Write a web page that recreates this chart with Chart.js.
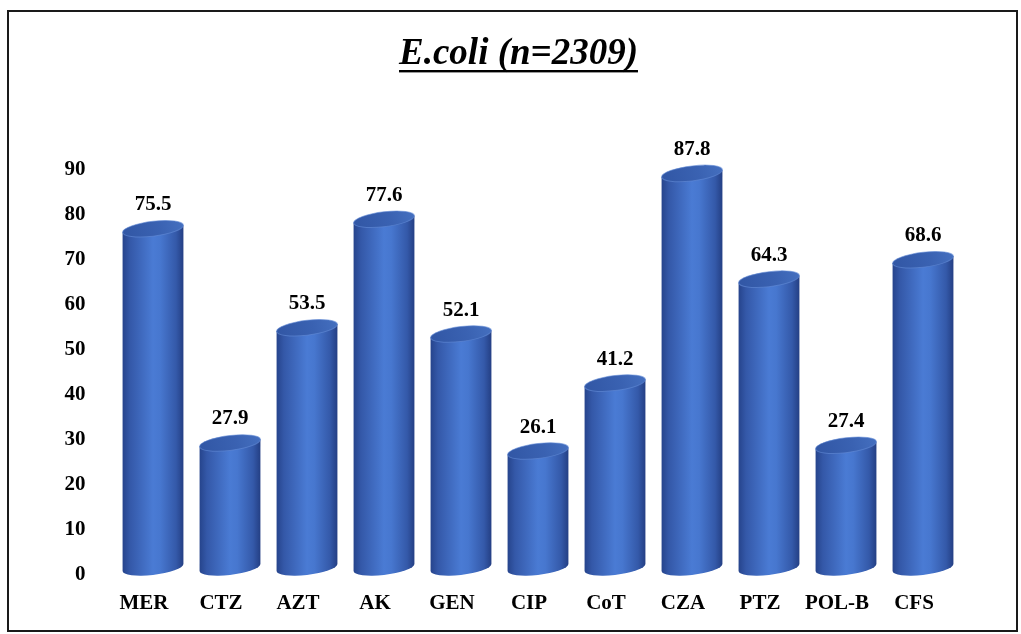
<!DOCTYPE html>
<html>
<head>
<meta charset="utf-8">
<script src="https://cdn.jsdelivr.net/npm/chart.js@4.4.1/dist/chart.umd.min.js"></script>
<style>
  html, body { margin: 0; padding: 0; background: #fff; }
  #wrap { width: 1021px; height: 634px; }
</style>
</head>
<body>
<div id="wrap"><canvas id="chart" width="1021" height="634"></canvas></div>
<script>
// Resistance rates (%) per antibiotic
const antibiotics = ['MER', 'CTZ', 'AZT', 'AK', 'GEN', 'CIP', 'CoT', 'CZA', 'PTZ', 'POL-B', 'CFS'];
const resistance = [75.5, 27.9, 53.5, 77.6, 52.1, 26.1, 41.2, 87.8, 64.3, 27.4, 68.6];
const titleText = 'E.coli (n=2309)';
const yMax = 90;
const yStep = 10;

const SERIF = '"Liberation Serif", "Times New Roman", serif';

// Frame, title and 3D cylinders drawn from the bar elements' geometry
const cylinderPlugin = {
  id: 'cylinders',
  beforeDraw(chart) {
    const ctx = chart.ctx;
    ctx.save();
    ctx.fillStyle = '#fff';
    ctx.fillRect(0, 0, chart.width, chart.height);
    ctx.strokeStyle = '#1a1a1a';
    ctx.lineWidth = 2;
    ctx.strokeRect(8, 11, 1009, 620);
    // title
    ctx.font = 'italic bold 37px ' + SERIF;
    ctx.fillStyle = '#000';
    ctx.textAlign = 'center';
    ctx.textBaseline = 'alphabetic';
    const cx = 518.5, by = 64;
    ctx.fillText(titleText, cx, by);
    const w = ctx.measureText(titleText).width;
    ctx.fillRect(cx - w / 2, by + 6, w, 2.4);
    ctx.restore();
  },
  afterDatasetsDraw(chart) {
    const ctx = chart.ctx;
    const meta = chart.getDatasetMeta(0);
    const ry = 7.5;
    const tilt = 3.5; // right side of each ellipse sits this much higher
    meta.data.forEach((bar, i) => {
      const x = bar.x, top = bar.y, base = bar.base;
      const rx = bar.width / 2;
      const k = tilt / rx;
      const tc = top - ry + 1, bc = base - ry;
      ctx.save();
      ctx.translate(x, 0);
      ctx.transform(1, -k, 0, 1, 0, 0);
      // body
      const g = ctx.createLinearGradient(-rx, 0, rx, 0);
      g.addColorStop(0, '#26448c');
      g.addColorStop(0.12, '#3458a8');
      g.addColorStop(0.5, '#4a7bd4');
      g.addColorStop(0.62, '#4777cf');
      g.addColorStop(0.88, '#3459a9');
      g.addColorStop(1, '#243f84');
      ctx.beginPath();
      ctx.moveTo(-rx, tc);
      ctx.lineTo(-rx, bc);
      ctx.ellipse(0, bc, rx, ry, 0, Math.PI, 0, true);
      ctx.lineTo(rx, tc);
      ctx.closePath();
      ctx.fillStyle = g;
      ctx.fill();
      // top cap
      const gt = ctx.createLinearGradient(-rx, tc + ry, rx, tc - ry);
      gt.addColorStop(0, '#3156a4');
      gt.addColorStop(0.6, '#3a62b2');
      gt.addColorStop(1, '#4570c0');
      ctx.beginPath();
      ctx.ellipse(0, tc, rx, ry, 0, 0, Math.PI * 2);
      ctx.fillStyle = gt;
      ctx.fill();
      ctx.strokeStyle = 'rgba(100,140,215,0.6)';
      ctx.lineWidth = 1;
      ctx.stroke();
      ctx.restore();
      // value label
      ctx.save();
      ctx.font = 'bold 21px ' + SERIF;
      ctx.fillStyle = '#000';
      ctx.textAlign = 'center';
      ctx.textBaseline = 'alphabetic';
      ctx.fillText(resistance[i].toFixed(1), x, top - 25);
      ctx.restore();
    });
  }
};

new Chart(document.getElementById('chart'), {
  type: 'bar',
  data: {
    labels: antibiotics,
    datasets: [{
      data: resistance,
      backgroundColor: 'rgba(0,0,0,0)',
      borderWidth: 0,
      categoryPercentage: 1,
      barPercentage: 0.79
    }]
  },
  options: {
    responsive: false,
    animation: false,
    layout: { padding: { left: 20, right: 59.5, top: 170, bottom: 20 } },
    plugins: {
      legend: { display: false },
      tooltip: { enabled: false },
      title: { display: false }
    },
    scales: {
      x: {
        grid: { display: false, drawTicks: false },
        border: { display: false },
        ticks: {
          color: '#000',
          font: { family: SERIF, size: 21, weight: 'bold' },
          padding: 16,
          labelOffset: -9,
          maxRotation: 0,
          autoSkip: false
        },
        afterFit(s) { s.height = 39; }
      },
      y: {
        min: 0,
        max: yMax,
        grid: { display: false, drawTicks: false },
        border: { display: false },
        ticks: {
          stepSize: yStep,
          color: '#000',
          font: { family: SERIF, size: 21, weight: 'bold' },
          padding: 29
        },
        afterFit(s) { s.width = 94.5; }
      }
    }
  },
  plugins: [cylinderPlugin]
});
</script>
</body>
</html>
